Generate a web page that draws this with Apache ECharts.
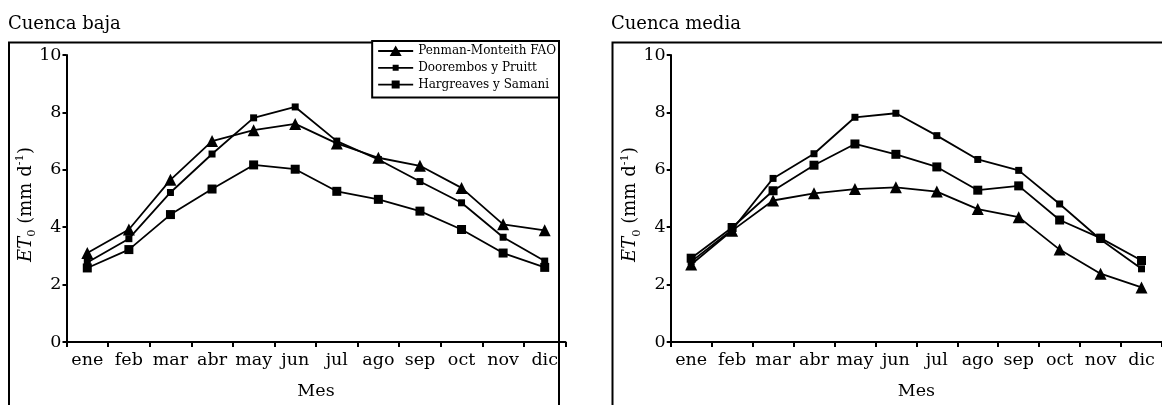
<!DOCTYPE html>
<html>
<head>
<meta charset="utf-8">
<script src="https://cdn.jsdelivr.net/npm/echarts@6/dist/echarts.min.js"></script>
<style>
html,body{margin:0;padding:0;background:#fff;}
#chart{width:1162px;height:405px;}
</style>
</head>
<body>
<div id="chart"></div>
<script>
const months = ['ene','feb','mar','abr','may','jun','jul','ago','sep','oct','nov','dic'];
const yTicks = [0, 2, 4, 6, 8, 10];
const seriesNames = ['Penman-Monteith FAO', 'Doorembos y Pruitt', 'Hargreaves y Samani'];
const panelTitles = ['Cuenca baja', 'Cuenca media'];

// Cuenca baja
const pmBaja = [3.10, 3.92, 5.65, 7.00, 7.38, 7.60, 6.92, 6.42, 6.14, 5.37, 4.10, 3.89];
const dpBaja = [2.77, 3.60, 5.21, 6.55, 7.81, 8.19, 7.00, 6.36, 5.59, 4.85, 3.65, 2.82];
const hsBaja = [2.58, 3.22, 4.44, 5.33, 6.17, 6.02, 5.25, 4.97, 4.56, 3.92, 3.10, 2.60];

// Cuenca media
const pmMedia = [2.70, 3.88, 4.93, 5.18, 5.33, 5.39, 5.24, 4.63, 4.35, 3.22, 2.38, 1.90];
const dpMedia = [2.80, 3.91, 5.70, 6.56, 7.83, 7.97, 7.19, 6.36, 5.98, 4.81, 3.57, 2.55];
const hsMedia = [2.92, 3.99, 5.27, 6.16, 6.90, 6.54, 6.10, 5.29, 5.44, 4.25, 3.62, 2.84];

const FONT = 'DejaVu Serif';
const chart = echarts.init(document.getElementById('chart'), null, {renderer: 'canvas'});

function xAxisCfg(gi) {
  return {
    type: 'category', gridIndex: gi, data: months, boundaryGap: true,
    name: 'Mes', nameLocation: 'middle', nameGap: 40, nameMoveOverlap: false,
    nameTextStyle: {fontFamily: FONT, fontSize: 17.5, color: '#000'},
    axisLine: {lineStyle: {color: '#000', width: 2}},
    axisTick: {show: true, length: 5, inside: false, alignWithLabel: false, lineStyle: {color: '#000', width: 2}},
    axisLabel: {interval: 0, margin: 9, fontFamily: FONT, fontSize: 17.5, color: '#000'},
    splitLine: {show: false}
  };
}
function yAxisCfg(gi) {
  return {
    type: 'value', gridIndex: gi, min: yTicks[0], max: yTicks[yTicks.length - 1], interval: 2,
    name: '{it|ET}{sub|0}{n| (mm d}{sup|-1}{n|)}',
    nameLocation: 'middle', nameRotate: 90, nameGap: 28, nameMoveOverlap: false,
    nameTextStyle: {
      color: '#000', padding: [0, 12, 0, 0],
      rich: {
        it: {fontFamily: FONT, fontStyle: 'italic', fontSize: 18, lineHeight: 24, verticalAlign: 'middle', color: '#000'},
        n: {fontFamily: FONT, fontSize: 18, lineHeight: 24, verticalAlign: 'middle', color: '#000'},
        sub: {fontFamily: FONT, fontSize: 11.5, lineHeight: 11, verticalAlign: 'bottom', color: '#000'},
        sup: {fontFamily: FONT, fontSize: 11.5, lineHeight: 14, verticalAlign: 'top', color: '#000'}
      }
    },
    axisLine: {show: true, lineStyle: {color: '#000', width: 2}},
    axisTick: {show: true, length: 4, inside: false, lineStyle: {color: '#000', width: 2}},
    axisLabel: {margin: 5, fontFamily: FONT, fontSize: 17.5, color: '#000'},
    splitLine: {show: false}
  };
}
function lineSeries(name, data, gi, symbol, size) {
  return {
    name: name, type: 'line', xAxisIndex: gi, yAxisIndex: gi, data: data,
    symbol: symbol, symbolSize: size, showSymbol: true,
    lineStyle: {color: '#000', width: 1.8},
    itemStyle: {color: '#000', borderWidth: 0},
    emphasis: {disabled: true}, animation: false
  };
}

// legend icons: a line with the marker drawn in its middle
const BOX = 'M0,0h0.01v0.01h-0.01Z M34.99,11.99h0.01v0.01h-0.01Z ';
const LINE = 'M0,5.1h35v1.8h-35Z ';
const legendIcons = [
  'path://' + BOX + LINE + 'M17.5,0.5L23.5,11H11.5Z',
  'path://' + BOX + LINE + 'M14.5,3h6v6h-6Z',
  'path://' + BOX + LINE + 'M13.5,2h8v8h-8Z'
];

const option = {
  animation: false,
  backgroundColor: '#fff',
  grid: [
    {left: 66.5, top: 55, width: 499, height: 289, containLabel: false},
    {left: 670.7, top: 55, width: 499, height: 289, containLabel: false}
  ],
  xAxis: [xAxisCfg(0), xAxisCfg(1)],
  yAxis: [yAxisCfg(0), yAxisCfg(1)],
  legend: {
    data: seriesNames.map((n, i) => ({name: n, icon: legendIcons[i]})),
    orient: 'vertical', right: 603, top: 41,
    padding: [3, 3, 6, 6], itemGap: 2.8, itemWidth: 35, itemHeight: 12,
    borderColor: '#000', borderWidth: 2, backgroundColor: '#fff',
    textStyle: {fontFamily: FONT, fontSize: 12, color: '#000', lineHeight: 14},
    selectedMode: false
  },
  graphic: [
    {type: 'rect', shape: {x: 9, y: 42.5, width: 550, height: 400}, style: {fill: 'none', stroke: '#000', lineWidth: 2}, silent: true, z: -1},
    {type: 'rect', shape: {x: 612.5, y: 42.5, width: 600, height: 400}, style: {fill: 'none', stroke: '#000', lineWidth: 2}, silent: true, z: -1},
    {type: 'text', left: 8, top: 15, style: {text: panelTitles[0], fontFamily: FONT, fontSize: 18, fill: '#000'}, silent: true},
    {type: 'text', left: 611, top: 15, style: {text: panelTitles[1], fontFamily: FONT, fontSize: 18, fill: '#000'}, silent: true}
  ],
  series: [
    lineSeries(seriesNames[0], pmBaja, 0, 'triangle', 12),
    lineSeries(seriesNames[1], dpBaja, 0, 'rect', 7),
    lineSeries(seriesNames[2], hsBaja, 0, 'rect', 9),
    lineSeries(seriesNames[0], pmMedia, 1, 'triangle', 12),
    lineSeries(seriesNames[1], dpMedia, 1, 'rect', 7),
    lineSeries(seriesNames[2], hsMedia, 1, 'rect', 9)
  ]
};
chart.setOption(option);
</script>
</body>
</html>
